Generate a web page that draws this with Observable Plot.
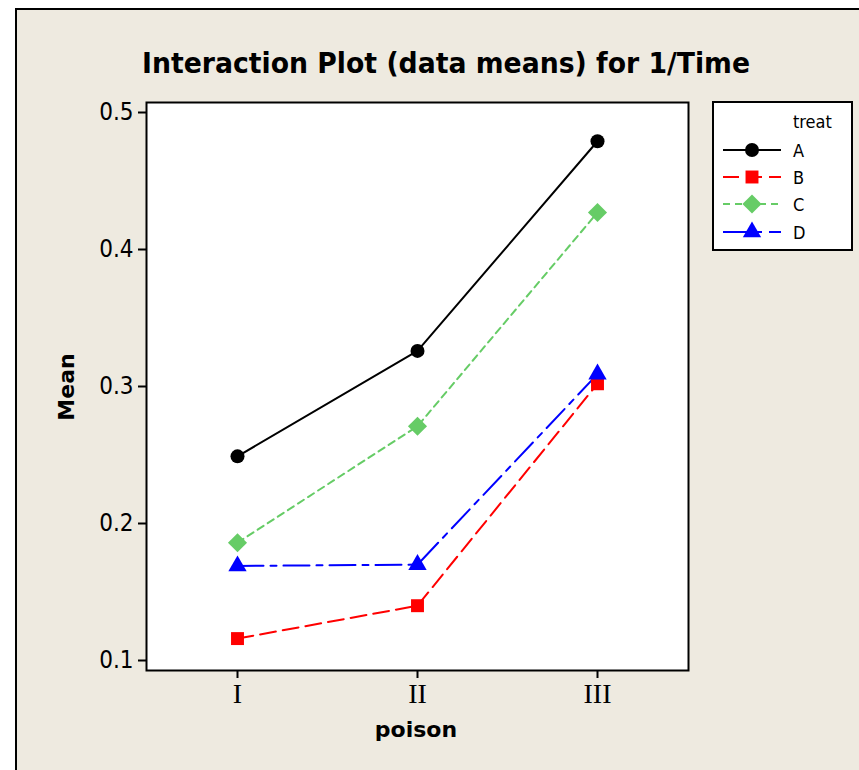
<!DOCTYPE html>
<html><head><meta charset="utf-8">
<script src="https://cdn.jsdelivr.net/npm/d3@7"></script>
<script src="https://cdn.jsdelivr.net/npm/@observablehq/plot@0.6"></script>
<style>
html,body{margin:0;padding:0;background:#fff;}
body{width:859px;height:770px;position:relative;overflow:hidden;}
#panel{position:absolute;left:15px;top:8px;width:844px;height:762px;background:#EEEAE0;border-left:2px solid #000;border-top:2px solid #000;}
#chart{position:absolute;left:0;top:0;}
#chart svg g[aria-label^="x-axis"] text{font-family:"Liberation Serif","Times New Roman",serif;font-size:28px;}
#chart svg g[aria-label^="y-axis"] text{font-family:"DejaVu Sans Condensed","DejaVu Sans",sans-serif;font-size:24px;}
#chart svg g[aria-label^="x-axis"] line,#chart svg g[aria-label^="x-axis"] path,
#chart svg g[aria-label^="y-axis"] line,#chart svg g[aria-label^="y-axis"] path{stroke-width:2px;}
#overlay{position:absolute;left:0;top:0;}
</style></head><body>
<div id="panel"></div>
<div id="chart"></div>
<svg id="overlay" width="859" height="770"></svg>
<script>
// ---- data ----
const poison = ["I", "II", "III"];
const treats = ["A", "B", "C", "D"];
const meanA = [0.249, 0.326, 0.479];
const meanB = [0.116, 0.140, 0.302];
const meanC = [0.186, 0.271, 0.427];
const meanD = [0.169, 0.170, 0.309];
const yTicks = [0.1, 0.2, 0.3, 0.4, 0.5];
const titleText = "Interaction Plot (data means) for 1/Time";
const xLabel = "poison";
const yLabel = "Mean";
const legendTitle = "treat";

// ---- styles ----
const colors = ["#000000", "#FF0000", "#66CC66", "#0000FF"];
const dashes = [null, "16,7", "7,5", "26,7,6,7"];
const symbols = ["circle", "square", "diamond2", "triangle"];
const symR = [7, 7.3, 8.6, 6.8];
const d3symbols = [d3.symbolCircle, d3.symbolSquare, d3.symbolDiamond2, d3.symbolTriangle];

const series = [meanA, meanB, meanC, meanD];
const rows = [];
treats.forEach((t, i) => poison.forEach((p, j) => rows.push({treat: t, poison: p, mean: series[i][j]})));

const chart = Plot.plot({
  width: 859, height: 770,
  marginTop: 102, marginBottom: 100, marginLeft: 146, marginRight: 171,
  style: {background: "transparent", fontFamily: "'DejaVu Sans Condensed','DejaVu Sans',sans-serif", fontSize: "24px", color: "#000", overflow: "visible"},
  x: {type: "point", domain: poison, padding: 0.5, label: null, tickSize: 8, tickPadding: 5},
  y: {domain: [0.0927, 0.5073], ticks: yTicks.length, tickFormat: d3.format(".1f"), label: null, tickSize: 8, tickPadding: 5},
  marks: [
    Plot.frame({fill: "white"}),
    ...treats.map((t, i) => Plot.line(rows.filter(r => r.treat === t), {
      x: "poison", y: "mean", stroke: colors[i], strokeWidth: 2,
      strokeDasharray: dashes[i] || undefined
    })),
    ...treats.map((t, i) => Plot.dot(rows.filter(r => r.treat === t), {
      x: "poison", y: "mean", fill: colors[i], symbol: symbols[i], r: symR[i], stroke: "none"
    })),
    Plot.frame({stroke: "#000", strokeWidth: 2})
  ]
});
document.getElementById("chart").appendChild(chart);

// ---- title, axis labels, legend ----
const ov = d3.select("#overlay");
ov.append("text").text(titleText)
  .attr("x", 142).attr("y", 73)
  .attr("textLength", 608).attr("lengthAdjust", "spacingAndGlyphs")
  .style("font-family", "'DejaVu Sans Condensed','DejaVu Sans',sans-serif")
  .style("font-weight", "bold").style("font-size", "29px").attr("fill", "#000");
ov.append("text").text(xLabel)
  .attr("x", 416).attr("y", 737).attr("text-anchor", "middle")
  .style("font-family", "'DejaVu Sans',sans-serif").style("font-weight", "bold").style("font-size", "22px");
ov.append("text").text(yLabel)
  .attr("transform", "translate(74,387) rotate(-90)").attr("text-anchor", "middle")
  .style("font-family", "'DejaVu Sans',sans-serif").style("font-weight", "bold").style("font-size", "22px");

const lg = ov.append("g");
lg.append("rect").attr("x", 713).attr("y", 102).attr("width", 139).attr("height", 148)
  .attr("fill", "#fff").attr("stroke", "#000").attr("stroke-width", 2);
lg.append("text").text(legendTitle).attr("x", 793).attr("y", 128)
  .style("font-family", "'DejaVu Sans Condensed','DejaVu Sans',sans-serif").style("font-size", "18px");
const ys = [150, 177, 204, 232];
treats.forEach((t, i) => {
  const y = ys[i];
  const ln = lg.append("line").attr("x1", 723).attr("x2", 781).attr("y1", y).attr("y2", y)
    .attr("stroke", colors[i]).attr("stroke-width", 2);
  if (dashes[i]) ln.attr("stroke-dasharray", dashes[i]);
  lg.append("path").attr("d", d3.symbol(d3symbols[i], Math.PI * symR[i] * symR[i])())
    .attr("transform", `translate(752,${y})`).attr("fill", colors[i]);
  lg.append("text").text(t).attr("x", 793).attr("y", y + 7)
    .style("font-family", "'DejaVu Sans Condensed','DejaVu Sans',sans-serif").style("font-size", "18px");
});
</script>
</body></html>
